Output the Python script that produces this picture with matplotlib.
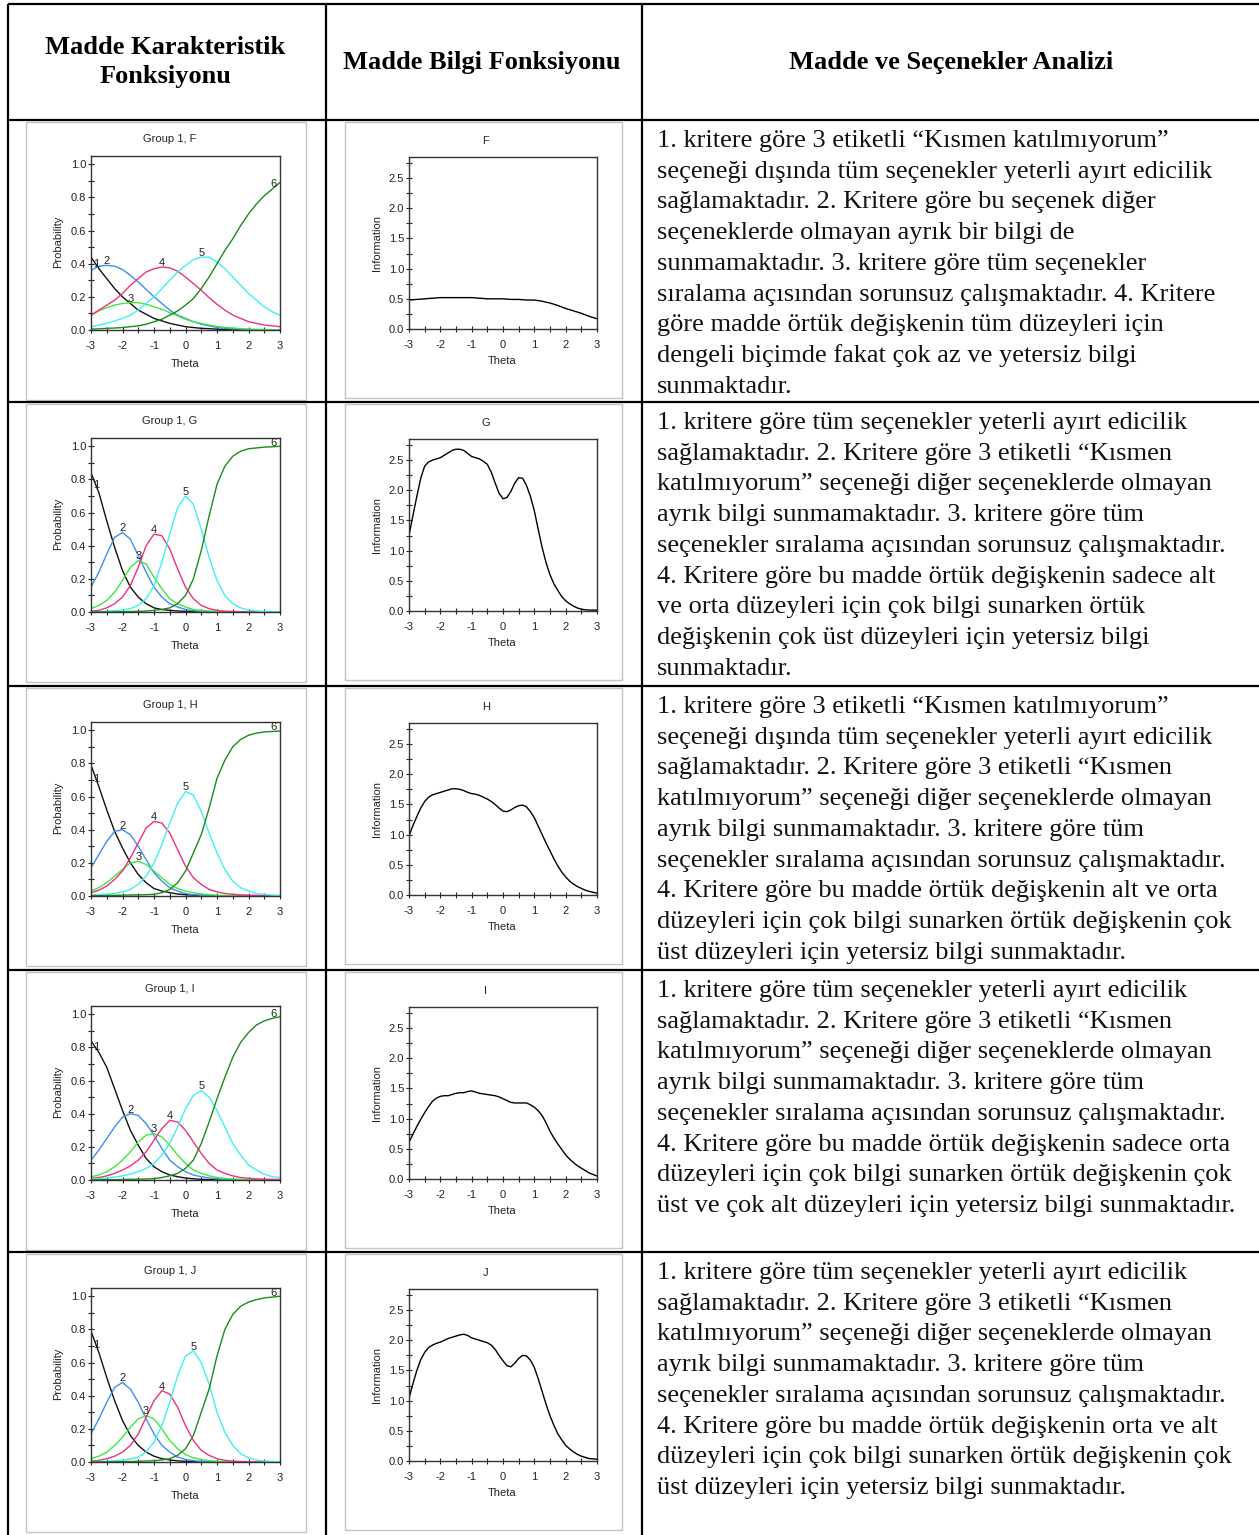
import numpy as np
import matplotlib
matplotlib.use('Agg')
from matplotlib import pyplot as plt
from matplotlib.patches import Rectangle
from matplotlib.ticker import MultipleLocator, FormatStrFormatter

plt.rcParams['axes.unicode_minus'] = False

W, H = 1259, 1535

theta = [-3.0, -2.75, -2.5, -2.25, -2.0, -1.75, -1.5, -1.25, -1.0, -0.75, -0.5, -0.25,
         0.0, 0.25, 0.5, 0.75, 1.0, 1.25, 1.5, 1.75, 2.0, 2.25, 2.5, 2.75, 3.0]

# information curves were read on a finer grid
theta_info = [-3.0, -2.875, -2.75, -2.625, -2.5, -2.375, -2.25, -2.125, -2.0, -1.875,
              -1.75, -1.625, -1.5, -1.375, -1.25, -1.125, -1.0, -0.875, -0.75, -0.625,
              -0.5, -0.375, -0.25, -0.125, 0.0, 0.125, 0.25, 0.375, 0.5, 0.625,
              0.75, 0.875, 1.0, 1.125, 1.25, 1.375, 1.5, 1.625, 1.75, 1.875,
              2.0, 2.125, 2.25, 2.375, 2.5, 2.625, 2.75, 2.875, 3.0]

items = ['F', 'G', 'H', 'I', 'J']

# category curves (options 1..6)
f_c1 = [.44, .37, .31, .25, .20, .16, .12, .095, .07, .055, .04, .03, .02, .015, .01, .008, .005, .004, .003, .002, .001, .001, 0, 0, 0]
f_c2 = [.36, .385, .39, .385, .365, .33, .29, .245, .20, .16, .12, .09, .07, .05, .035, .025, .015, .01, .007, .005, .003, .002, .001, .001, 0]
f_c3 = [.09, .115, .135, .15, .16, .165, .165, .155, .14, .125, .105, .085, .065, .05, .04, .03, .022, .016, .012, .008, .006, .004, .003, .002, .001]
f_c4 = [.09, .12, .15, .18, .22, .27, .31, .35, .37, .38, .375, .355, .32, .28, .24, .195, .155, .12, .09, .07, .05, .04, .03, .025, .02]
f_c5 = [.02, .03, .04, .055, .07, .09, .12, .16, .20, .25, .30, .35, .39, .425, .44, .44, .41, .37, .32, .27, .22, .18, .14, .11, .09]
f_c6 = [.005, .007, .01, .012, .015, .02, .025, .035, .05, .065, .09, .115, .15, .19, .25, .32, .40, .48, .55, .63, .70, .76, .81, .85, .89]

g_c1 = [.84, .72, .55, .39, .25, .15, .09, .05, .025, .015, .01, .006, .004, .002, .001, 0, 0, 0, 0, 0, 0, 0, 0, 0, 0]
g_c2 = [.15, .24, .35, .45, .48, .44, .34, .24, .15, .09, .05, .03, .015, .008, .004, .002, .001, 0, 0, 0, 0, 0, 0, 0, 0]
g_c3 = [.02, .04, .07, .12, .19, .27, .31, .29, .21, .14, .08, .05, .03, .015, .01, .006, .004, .002, .001, 0, 0, 0, 0, 0, 0]
g_c4 = [.005, .01, .025, .05, .09, .16, .27, .40, .47, .46, .38, .26, .15, .08, .04, .02, .01, .005, .003, .001, 0, 0, 0, 0, 0]
g_c5 = [0, .002, .005, .008, .012, .02, .04, .08, .16, .30, .47, .63, .70, .65, .50, .33, .19, .10, .05, .025, .012, .006, .003, .001, 0]
g_c6 = [0, 0, 0, .001, .002, .003, .004, .006, .01, .015, .025, .05, .10, .20, .37, .58, .77, .88, .94, .97, .985, .99, .995, .997, 1.0]

h_c1 = [.79, .66, .52, .39, .29, .20, .13, .08, .045, .03, .02, .012, .008, .005, .003, .002, .001, 0, 0, 0, 0, 0, 0, 0, 0]
h_c2 = [.17, .25, .33, .39, .40, .37, .30, .22, .14, .09, .05, .03, .015, .008, .004, .002, .001, 0, 0, 0, 0, 0, 0, 0, 0]
h_c3 = [.03, .05, .08, .12, .16, .20, .21, .19, .15, .11, .07, .045, .03, .02, .012, .008, .005, .003, .002, .001, 0, 0, 0, 0, 0]
h_c4 = [.02, .035, .06, .10, .15, .23, .32, .41, .45, .44, .38, .28, .18, .11, .07, .04, .025, .015, .01, .007, .005, .004, .003, .002, .002]
h_c5 = [.005, .008, .01, .016, .025, .04, .07, .12, .20, .31, .44, .56, .63, .61, .51, .38, .26, .16, .09, .05, .03, .015, .01, .005, .003]
h_c6 = [.002, .002, .003, .004, .005, .006, .007, .008, .01, .02, .04, .08, .15, .26, .37, .53, .71, .82, .90, .945, .97, .983, .99, .993, .995]

i_c1 = [.84, .77, .68, .55, .42, .30, .21, .13, .08, .05, .03, .02, .012, .007, .004, .002, .001, 0, 0, 0, 0, 0, 0, 0, 0]
i_c2 = [.12, .18, .25, .32, .38, .40, .39, .34, .27, .19, .12, .08, .05, .03, .02, .012, .007, .004, .002, .001, 0, 0, 0, 0, 0]
i_c3 = [.02, .03, .05, .08, .12, .17, .23, .27, .28, .26, .21, .15, .10, .06, .04, .025, .015, .01, .006, .004, .003, .002, .001, .001, .001]
i_c4 = [.01, .015, .025, .04, .06, .085, .12, .17, .24, .31, .36, .35, .30, .23, .16, .10, .06, .04, .025, .015, .01, .007, .005, .004, .003]
i_c5 = [.005, .008, .012, .018, .025, .035, .05, .07, .10, .15, .22, .32, .43, .51, .54, .50, .42, .32, .22, .15, .09, .06, .035, .02, .015]
i_c6 = [.001, .001, .002, .002, .003, .004, .005, .006, .008, .015, .025, .04, .07, .12, .22, .35, .49, .62, .74, .83, .89, .935, .96, .975, .985]

j_c1 = [.79, .66, .51, .37, .25, .16, .10, .06, .035, .02, .012, .007, .004, .002, .001, 0, 0, 0, 0, 0, 0, 0, 0, 0, 0]
j_c2 = [.17, .26, .36, .45, .48, .44, .36, .26, .17, .10, .06, .03, .015, .008, .004, .002, .001, 0, 0, 0, 0, 0, 0, 0, 0]
j_c3 = [.02, .035, .06, .10, .15, .21, .26, .28, .26, .20, .13, .08, .045, .025, .015, .008, .005, .003, .002, .001, 0, 0, 0, 0, 0]
j_c4 = [.005, .01, .02, .035, .06, .10, .17, .27, .37, .43, .41, .33, .22, .13, .07, .04, .02, .01, .005, .003, .002, .001, 0, 0, 0]
j_c5 = [.002, .003, .005, .007, .01, .018, .03, .06, .12, .22, .36, .52, .64, .67, .60, .47, .30, .18, .10, .05, .025, .012, .006, .003, .002]
j_c6 = [0, 0, .001, .001, .002, .003, .004, .006, .008, .012, .02, .04, .08, .16, .30, .44, .64, .80, .89, .94, .965, .98, .99, .995, 1.0]

# item information curves
f_info = [.48, .485, .49, .495, .50, .505, .51, .515, .52, .52, .52, .52, .52, .52, .52, .52, .52,
          .515, .51, .505, .50, .50, .50, .50, .50, .495, .49, .49, .49, .485, .48, .48, .48,
          .47, .46, .445, .43, .41, .39, .365, .34, .32, .30, .28, .26, .235, .21, .19, .17]
g_info = [1.25, 1.58, 1.9, 2.2, 2.40, 2.47, 2.5, 2.52, 2.54, 2.58, 2.62, 2.66, 2.68, 2.68, 2.66, 2.61, 2.56,
          2.54, 2.52, 2.48, 2.43, 2.3, 2.12, 1.95, 1.86, 1.88, 1.98, 2.12, 2.21, 2.2, 2.08, 1.9, 1.66,
          1.35, 1.05, 0.8, 0.6, 0.45, 0.34, 0.24, 0.17, 0.12, 0.08, 0.05, 0.03, 0.02, 0.015, 0.015, 0.015]
h_info = [0.98, 1.15, 1.3, 1.44, 1.55, 1.62, 1.66, 1.68, 1.70, 1.72, 1.74, 1.76, 1.76, 1.75, 1.73, 1.70, 1.68,
          1.67, 1.65, 1.62, 1.59, 1.55, 1.50, 1.44, 1.39, 1.38, 1.41, 1.45, 1.48, 1.49, 1.46, 1.38, 1.28,
          1.14, 1.0, 0.86, 0.73, 0.6, 0.48, 0.38, 0.30, 0.23, 0.18, 0.14, 0.11, 0.08, 0.06, 0.045, 0.03]
i_info = [0.61, 0.74, 0.87, 0.99, 1.10, 1.20, 1.29, 1.34, 1.37, 1.38, 1.38, 1.40, 1.42, 1.43, 1.43, 1.45, 1.46,
          1.44, 1.42, 1.41, 1.40, 1.39, 1.38, 1.36, 1.33, 1.30, 1.27, 1.26, 1.26, 1.26, 1.26, 1.23, 1.19,
          1.13, 1.05, 0.93, 0.79, 0.68, 0.58, 0.49, 0.40, 0.33, 0.27, 0.22, 0.18, 0.14, 0.10, 0.075, 0.05]
j_info = [1.04, 1.28, 1.5, 1.68, 1.80, 1.88, 1.92, 1.95, 1.97, 2.0, 2.03, 2.05, 2.07, 2.09, 2.10, 2.08, 2.04,
          2.02, 2.0, 1.98, 1.96, 1.92, 1.85, 1.75, 1.66, 1.58, 1.56, 1.62, 1.70, 1.75, 1.74, 1.67, 1.55,
          1.36, 1.15, 0.94, 0.75, 0.59, 0.45, 0.35, 0.26, 0.2, 0.15, 0.11, 0.08, 0.06, 0.04, 0.035, 0.03]

icc = {
    'F': [f_c1, f_c2, f_c3, f_c4, f_c5, f_c6],
    'G': [g_c1, g_c2, g_c3, g_c4, g_c5, g_c6],
    'H': [h_c1, h_c2, h_c3, h_c4, h_c5, h_c6],
    'I': [i_c1, i_c2, i_c3, i_c4, i_c5, i_c6],
    'J': [j_c1, j_c2, j_c3, j_c4, j_c5, j_c6],
}
info = {'F': f_info, 'G': g_info, 'H': h_info, 'I': i_info, 'J': j_info}

texts = {
    'F': ['1. kritere göre 3 etiketli “Kısmen katılmıyorum”',
          'seçeneği dışında tüm seçenekler yeterli ayırt edicilik',
          'sağlamaktadır. 2. Kritere göre bu seçenek diğer',
          'seçeneklerde olmayan ayrık bir bilgi de',
          'sunmamaktadır. 3. kritere göre tüm seçenekler',
          'sıralama açısından sorunsuz çalışmaktadır. 4. Kritere',
          'göre madde örtük değişkenin tüm düzeyleri için',
          'dengeli biçimde fakat çok az ve yetersiz bilgi',
          'sunmaktadır.'],
    'G': ['1. kritere göre tüm seçenekler yeterli ayırt edicilik',
          'sağlamaktadır. 2. Kritere göre 3 etiketli “Kısmen',
          'katılmıyorum” seçeneği diğer seçeneklerde olmayan',
          'ayrık bilgi sunmamaktadır. 3. kritere göre tüm',
          'seçenekler sıralama açısından sorunsuz çalışmaktadır.',
          '4. Kritere göre bu madde örtük değişkenin sadece alt',
          've orta düzeyleri için çok bilgi sunarken örtük',
          'değişkenin çok üst düzeyleri için yetersiz bilgi',
          'sunmaktadır.'],
    'H': ['1. kritere göre 3 etiketli “Kısmen katılmıyorum”',
          'seçeneği dışında tüm seçenekler yeterli ayırt edicilik',
          'sağlamaktadır. 2. Kritere göre 3 etiketli “Kısmen',
          'katılmıyorum” seçeneği diğer seçeneklerde olmayan',
          'ayrık bilgi sunmamaktadır. 3. kritere göre tüm',
          'seçenekler sıralama açısından sorunsuz çalışmaktadır.',
          '4. Kritere göre bu madde örtük değişkenin alt ve orta',
          'düzeyleri için çok bilgi sunarken örtük değişkenin çok',
          'üst düzeyleri için yetersiz bilgi sunmaktadır.'],
    'I': ['1. kritere göre tüm seçenekler yeterli ayırt edicilik',
          'sağlamaktadır. 2. Kritere göre 3 etiketli “Kısmen',
          'katılmıyorum” seçeneği diğer seçeneklerde olmayan',
          'ayrık bilgi sunmamaktadır. 3. kritere göre tüm',
          'seçenekler sıralama açısından sorunsuz çalışmaktadır.',
          '4. Kritere göre bu madde örtük değişkenin sadece orta',
          'düzeyleri için çok bilgi sunarken örtük değişkenin çok',
          'üst ve çok alt düzeyleri için yetersiz bilgi sunmaktadır.'],
    'J': ['1. kritere göre tüm seçenekler yeterli ayırt edicilik',
          'sağlamaktadır. 2. Kritere göre 3 etiketli “Kısmen',
          'katılmıyorum” seçeneği diğer seçeneklerde olmayan',
          'ayrık bilgi sunmamaktadır. 3. kritere göre tüm',
          'seçenekler sıralama açısından sorunsuz çalışmaktadır.',
          '4. Kritere göre bu madde örtük değişkenin orta ve alt',
          'düzeyleri için çok bilgi sunarken örtük değişkenin çok',
          'üst düzeyleri için yetersiz bilgi sunmaktadır.'],
}

colors = ['#111111', '#3d8ef0', '#3ee83e', '#f0307f', '#3ff0f0', '#1c8a1c']
row_tops = [120, 402, 686, 970, 1252]

serif = 'Liberation Serif'
sans = 'Liberation Sans'
small = 8

fig = plt.figure(figsize=(W / 100, H / 100), dpi=100)
bg = fig.add_axes([0, 0, 1, 1])
bg.set_xlim(0, W)
bg.set_ylim(H, 0)
bg.axis('off')

# table grid
for y in [4] + row_tops:
    bg.plot([8, W], [y, y], color='black', lw=1.6, solid_capstyle='butt')
for x in [8, 326, 642]:
    bg.plot([x, x], [4, H], color='black', lw=1.6, solid_capstyle='butt')

hdr = dict(ha='center', va='center', fontsize=19, fontweight='bold', family=serif)
bg.text(165, 47, 'Madde Karakteristik', **hdr)
bg.text(165, 77, 'Fonksiyonu', **hdr)
bg.text(482, 63, 'Madde Bilgi Fonksiyonu', **hdr)
bg.text(951, 63, 'Madde ve Seçenekler Analizi', **hdr)


def px_axes(left, top, right, bottom):
    return fig.add_axes([left / W, 1 - bottom / H, (right - left) / W, (bottom - top) / H])


def style(ax, ymax, ymajor, yminor):
    ax.set_xlim(-3, 3)
    ax.set_ylim(0, ymax)
    ax.xaxis.set_major_locator(MultipleLocator(1))
    ax.xaxis.set_minor_locator(MultipleLocator(0.5))
    ax.yaxis.set_major_locator(MultipleLocator(ymajor))
    ax.yaxis.set_minor_locator(MultipleLocator(yminor))
    ax.yaxis.set_major_formatter(FormatStrFormatter('%.1f'))
    ax.tick_params(which='both', direction='inout', length=4, width=0.8, color='#222222',
                   labelsize=small, labelcolor='#222222')
    ax.tick_params(axis='x', pad=6)
    ax.tick_params(axis='y', pad=1.5)
    for lab in ax.get_xticklabels() + ax.get_yticklabels():
        lab.set_family(sans)
    for s in ax.spines.values():
        s.set_linewidth(1.0)
        s.set_color('#333333')


lab_kw = dict(ha='center', va='center', fontsize=small, family=sans, color='#222222')
txt_kw = dict(ha='center', va='center', fontsize=small, family=sans, color='#222222')

th = np.array(theta)
for r, item in zip(row_tops, items):
    # gray picture frames
    bg.add_patch(Rectangle((26, r + 2), 280, 278, fill=False, ec='#c4c4c4', lw=1))
    bg.add_patch(Rectangle((345, r + 2), 277, 276, fill=False, ec='#c4c4c4', lw=1))

    # item characteristic curves
    ax = px_axes(91, r + 36, 280, r + 210)
    curves = icc[item]
    for k, c in enumerate(curves):
        ax.plot(th, c, color=colors[k], lw=1.0)
    ax.text(-2.82, np.interp(-2.82, th, curves[0]) + 0.01, '1', **lab_kw)
    for k in range(1, 5):
        c = np.array(curves[k])
        m = int(np.argmax(c))
        ax.text(th[m], c[m] + 0.025, str(k + 1), **lab_kw)
    ax.text(2.8, np.interp(2.8, th, curves[5]) + 0.025, '6', **lab_kw)
    style(ax, 1.05, 0.2, 0.1)
    bg.text(170, r + 19, 'Group 1, ' + item, **txt_kw)
    bg.text(58, r + 122, 'Probability', rotation=90, **txt_kw)
    bg.text(185, r + 244, 'Theta', **txt_kw)

    # item information curve
    ax2 = px_axes(409, r + 37, 597, r + 209)
    ax2.plot(theta_info, info[item], color='black', lw=1.0)
    style(ax2, 2.85, 0.5, 0.25)
    bg.text(486, r + 21, item, **txt_kw)
    bg.text(377, r + 123, 'Information', rotation=90, **txt_kw)
    bg.text(502, r + 241, 'Theta', **txt_kw)

    # analysis text
    for i, line in enumerate(texts[item]):
        bg.text(657, r + 27 + i * 30.7, line, ha='left', va='baseline', fontsize=19,
                family=serif, color='#111111')

fig.savefig('out.png', dpi=100)
